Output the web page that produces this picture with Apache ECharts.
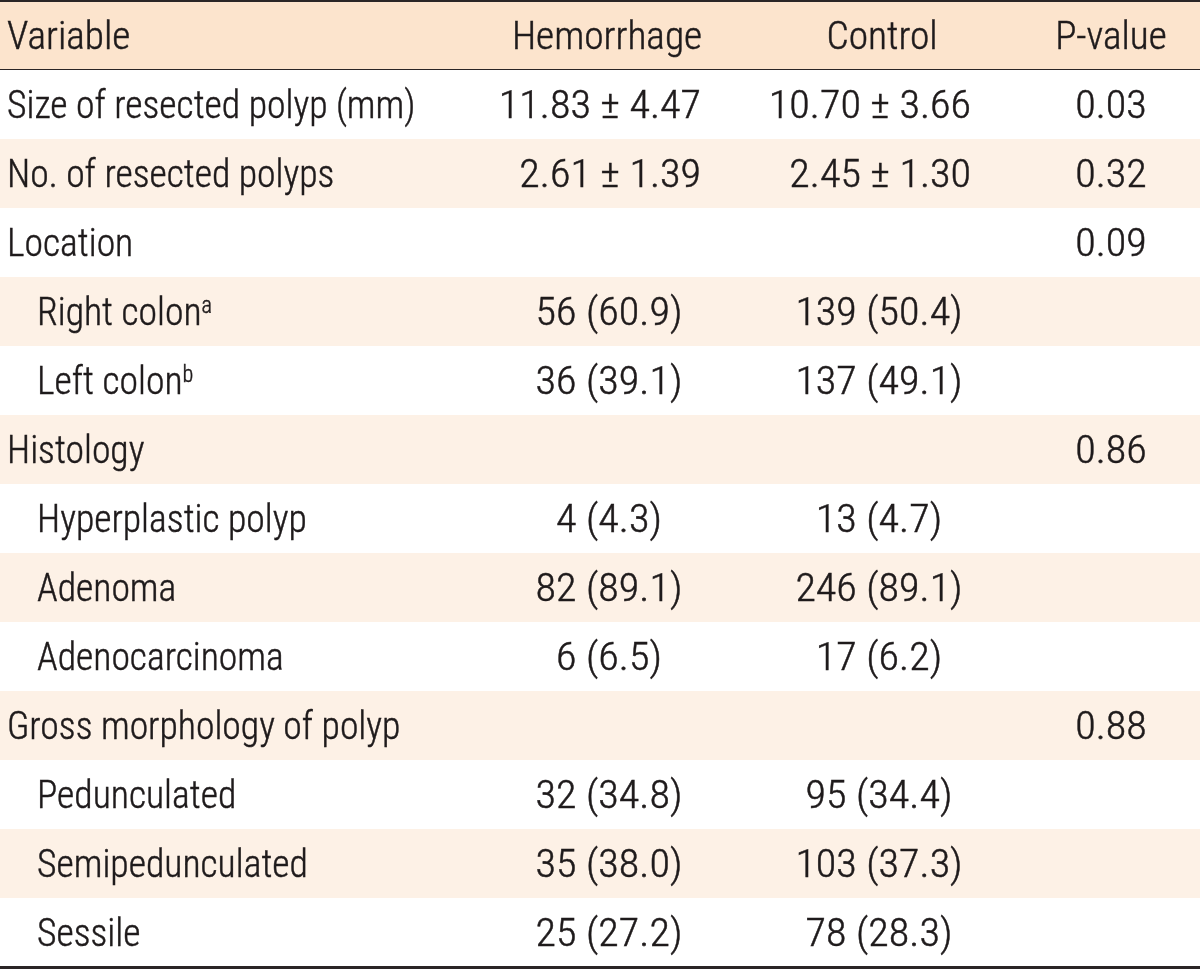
<!DOCTYPE html>
<html><head><meta charset="utf-8">
<script src="https://cdn.jsdelivr.net/npm/echarts@6/dist/echarts.min.js"></script>
<style>html,body{margin:0;padding:0;background:#fff}#c{width:1200px;height:969px}</style>
</head><body><div id="c"></div>
<script>
const header = ['Variable', 'Hemorrhage', 'Control', 'P-value'];
const variables = ['Size of resected polyp (mm)', 'No. of resected polyps', 'Location', 'Right colon', 'Left colon', 'Histology', 'Hyperplastic polyp', 'Adenoma', 'Adenocarcinoma', 'Gross morphology of polyp', 'Pedunculated', 'Semipedunculated', 'Sessile'];
const indented = [false, false, false, true, true, false, true, true, true, false, true, true, true];
const superscripts = ['', '', '', 'a', 'b', '', '', '', '', '', '', '', ''];
const hemorrhage = ['11.83 ± 4.47', '2.61 ± 1.39', '', '56 (60.9)', '36 (39.1)', '', '4 (4.3)', '82 (89.1)', '6 (6.5)', '', '32 (34.8)', '35 (38.0)', '25 (27.2)'];
const control = ['10.70 ± 3.66', '2.45 ± 1.30', '', '139 (50.4)', '137 (49.1)', '', '13 (4.7)', '246 (89.1)', '17 (6.2)', '', '95 (34.4)', '103 (37.3)', '78 (28.3)'];
const pValues = ['0.03', '0.32', '0.09', '', '', '0.86', '', '', '', '0.88', '', '', ''];

const rows = ['header'].concat(variables);
const FONT_FAMILY = '"Roboto Condensed","DejaVu Sans Condensed",sans-serif';
const FS = 39;
const FW = 300;
const DY = 4;
const SX_LABEL = 0.965, SX_HEAD = 1.01, SX_NUM = 1.08;
const TEXT = '#1e1a1b';
const HEADER_BG = '#fce4cd';
const STRIPE_BG = '#fdf1e6';
const LINE = '#2a2526';
const COL = { label: 7, indent: 37, hem: 609, hemR: 701, ctrl: 879, ctrlR: 971, p: 1111 };

function textEl(x, y, txt, align, sx, rich) {
  const style = {
    text: txt, fill: TEXT,
    stroke: TEXT, lineWidth: 0.45,
    font: FW + ' ' + FS + 'px ' + FONT_FAMILY,
    fontSize: FS, fontFamily: FONT_FAMILY, fontWeight: FW,
    textAlign: align, align: align,
    textVerticalAlign: 'middle', verticalAlign: 'middle'
  };
  if (rich) style.rich = rich;
  return { type: 'text', x: x, y: y + DY, scaleX: sx, style: style };
}

const chart = echarts.init(document.getElementById('c'), null, { renderer: 'canvas' });
chart.setOption({
  animation: false,
  grid: { left: 0, right: 0, top: 1, bottom: 2 },
  xAxis: { type: 'value', min: 0, max: 1200, show: false },
  yAxis: { type: 'category', data: rows, inverse: true, show: false },
  series: [{
    type: 'custom',
    encode: { x: 0, y: 1 },
    data: rows.map((r, i) => [0, i]),
    renderItem: function (params, api) {
      const i = api.value(1);
      const c = api.coord([0, i]);
      const h = api.size([0, 1])[1];
      const x0 = c[0], x1 = api.coord([1200, i])[0];
      const yC = c[1], yTop = yC - h / 2, yBot = yC + h / 2;
      const X = k => api.coord([COL[k], i])[0];
      const kids = [];
      const bg = i === 0 ? HEADER_BG : (i % 2 === 0 ? STRIPE_BG : '#ffffff');
      kids.push({ type: 'rect', shape: { x: x0, y: yTop, width: x1 - x0, height: h }, style: { fill: bg } });
      if (i === 0) {
        kids.push({ type: 'rect', shape: { x: x0, y: yTop - 1, width: x1 - x0, height: 2 }, style: { fill: LINE } });
        kids.push({ type: 'rect', shape: { x: x0, y: yBot - 1, width: x1 - x0, height: 2 }, style: { fill: LINE } });
        kids.push(textEl(X('label'), yC, header[0], 'left', SX_HEAD));
        kids.push(textEl(X('hem') - 2, yC, header[1], 'center', SX_HEAD));
        kids.push(textEl(X('ctrl') + 3, yC, header[2], 'center', SX_HEAD));
        kids.push(textEl(X('p'), yC, header[3], 'center', SX_HEAD));
      } else {
        const j = i - 1;
        const lx = indented[j] ? X('indent') : X('label');
        if (superscripts[j]) {
          kids.push(textEl(lx, yC, '{n|' + variables[j] + '}{s|' + superscripts[j] + '}', 'left', SX_LABEL, {
            n: { fontSize: FS, fontFamily: FONT_FAMILY, fontWeight: FW, fill: TEXT, color: TEXT, lineHeight: FS },
            s: { fontSize: 23, fontFamily: FONT_FAMILY, fontWeight: FW, fill: TEXT, color: TEXT, lineHeight: 23, verticalAlign: 'top' }
          }));
        } else {
          kids.push(textEl(lx, yC, variables[j], 'left', SX_LABEL));
        }
        if (hemorrhage[j]) {
          const pm = hemorrhage[j].indexOf('±') >= 0;
          kids.push(textEl(pm ? X('hemR') : X('hem'), yC, hemorrhage[j], pm ? 'right' : 'center', SX_NUM));
        }
        if (control[j]) {
          const pm = control[j].indexOf('±') >= 0;
          kids.push(textEl(pm ? X('ctrlR') : X('ctrl'), yC, control[j], pm ? 'right' : 'center', SX_NUM));
        }
        if (pValues[j]) kids.push(textEl(X('p'), yC, pValues[j], 'center', SX_NUM));
        if (i === rows.length - 1) {
          kids.push({ type: 'rect', shape: { x: x0, y: yBot - 1, width: x1 - x0, height: 3 }, style: { fill: LINE } });
        }
      }
      return { type: 'group', children: kids };
    }
  }]
});
</script>
</body></html>
